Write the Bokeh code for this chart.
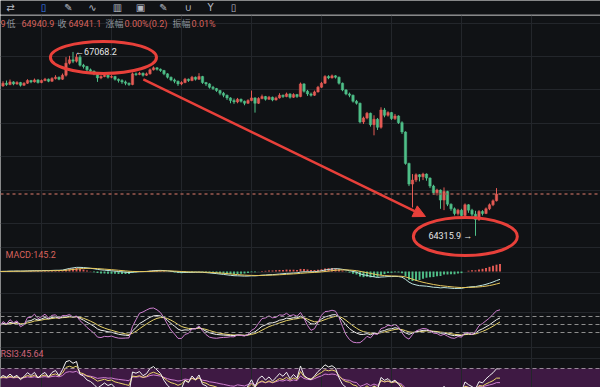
import numpy as np
from bokeh.plotting import figure
from bokeh.models import (Range1d, Grid, FixedTicker, Span, BoxAnnotation, Label,
                          Arrow, NormalHead, ColumnDataSource)
from bokeh.layouts import column
from bokeh.embed import file_html
from bokeh.resources import INLINE
from bokeh.core.properties import value

# ---------------- data ----------------
opens = [66580, 66560, 66600, 66580, 66620, 66590, 66610, 66570, 66600, 66640,
         66620, 66650, 66610, 66640, 66660, 66630, 66670, 66690, 66660, 66720,
         66900, 66950, 66930, 66990, 66870, 66850, 66800, 66780, 66740, 66680,
         66700, 66720, 66690, 66700, 66660, 66640, 66620, 66600, 66580, 66740,
         66730, 66750, 66720, 66740, 66800, 66830, 66810, 66790, 66740, 66690,
         66650, 66630, 66590, 66610, 66660, 66640, 66690, 66660, 66700, 66610,
         66590, 66540, 66520, 66490, 66450, 66420, 66380, 66340, 66320, 66360,
         66330, 66300, 66340, 66380, 66300, 66370, 66400, 66360, 66390, 66350,
         66380, 66420, 66400, 66440, 66390, 66430, 66400, 66590, 66480, 66440,
         66420, 66470, 66540, 66600, 66700, 66680, 66710, 66690, 66600, 66500,
         66440, 66420, 66330, 66300, 66020, 66080, 66150, 65980, 66060, 65940,
         66200, 66120, 66160, 66070, 66110, 66010, 65870, 65400, 65090, 65150,
         65230, 65200, 65240, 65180, 65060, 64960, 65000, 64850, 64980, 64790,
         64720, 64650, 64700, 64620, 64780, 64700, 64640, 64560, 64680, 64650,
         64720, 64780, 64840, 64940.9]
highs = [66610, 66630, 66640, 66655, 66630, 66630, 66620, 66615, 66660, 66650,
         66670, 66660, 66655, 66680, 66670, 66690, 66720, 66700, 66745, 66990,
         67010, 67068.2, 67040, 67020, 66890, 66860, 66820, 66790, 66750, 66720,
         66740, 66730, 66720, 66710, 66670, 66660, 66640, 66610, 66760, 66760,
         66770, 66760, 66760, 66820, 66850, 66840, 66820, 66800, 66750, 66700,
         66670, 66640, 66630, 66680, 66670, 66710, 66700, 66750, 66710, 66620,
         66600, 66560, 66530, 66500, 66470, 66430, 66390, 66370, 66380, 66370,
         66340, 66360, 66490, 66390, 66390, 66430, 66410, 66410, 66400, 66400,
         66450, 66430, 66460, 66450, 66450, 66440, 66610, 66600, 66500, 66460,
         66490, 66560, 66620, 66720, 66720, 66730, 66720, 66700, 66610, 66510,
         66460, 66430, 66350, 66310, 66100, 66170, 66160, 66120, 66080, 66240,
         66230, 66180, 66170, 66140, 66120, 66030, 65880, 65410, 65240, 65250,
         65240, 65260, 65250, 65190, 65080, 65020, 65010, 65040, 64990, 64800,
         64740, 64720, 64720, 64800, 64790, 64720, 64690, 64700, 64700, 64740,
         64800, 64860, 65030, 64947.4]
lows = [66530, 66545, 66560, 66570, 66570, 66575, 66550, 66560, 66590, 66600,
        66610, 66595, 66600, 66630, 66615, 66620, 66655, 66645, 66650, 66700,
        66880, 66900, 66910, 66850, 66820, 66780, 66760, 66720, 66620, 66660,
        66690, 66670, 66675, 66640, 66610, 66590, 66570, 66560, 66570, 66710,
        66720, 66700, 66710, 66730, 66790, 66790, 66770, 66720, 66670, 66630,
        66600, 66560, 66570, 66600, 66620, 66630, 66640, 66650, 66590, 66560,
        66520, 66500, 66470, 66420, 66390, 66350, 66300, 66290, 66300, 66310,
        66270, 66290, 66330, 66160, 66290, 66360, 66340, 66350, 66330, 66340,
        66370, 66380, 66390, 66370, 66380, 66380, 66390, 66460, 66410, 66400,
        66410, 66460, 66530, 66590, 66660, 66670, 66670, 66580, 66480, 66420,
        66390, 66310, 66280, 66000, 65990, 66060, 65950, 65820, 65900, 65920,
        66090, 66100, 66050, 66050, 65990, 65840, 65380, 65060, 64740, 65120,
        65130, 65150, 65140, 65030, 64930, 64920, 64720, 64700, 64760, 64690,
        64620, 64620, 64590, 64600, 64660, 64610, 64315.9, 64540, 64620, 64640,
        64700, 64760, 64830, 64940.9]
closes = [66560, 66600, 66580, 66620, 66590, 66610, 66570, 66600, 66640, 66620,
          66650, 66610, 66640, 66660, 66630, 66670, 66690, 66660, 66720, 66900,
          66950, 66930, 66990, 66870, 66850, 66800, 66780, 66740, 66680, 66700,
          66720, 66690, 66700, 66660, 66640, 66620, 66600, 66580, 66740, 66730,
          66750, 66720, 66740, 66800, 66830, 66810, 66790, 66740, 66690, 66650,
          66630, 66590, 66610, 66660, 66640, 66690, 66660, 66700, 66610, 66590,
          66540, 66520, 66490, 66450, 66420, 66380, 66340, 66320, 66360, 66330,
          66300, 66340, 66380, 66300, 66370, 66400, 66360, 66390, 66350, 66380,
          66420, 66400, 66440, 66390, 66430, 66400, 66590, 66480, 66440, 66420,
          66470, 66540, 66600, 66700, 66680, 66710, 66690, 66600, 66500, 66440,
          66420, 66330, 66300, 66020, 66080, 66150, 65980, 66060, 65940, 66200,
          66120, 66160, 66070, 66110, 66010, 65870, 65400, 65090, 65150, 65230,
          65200, 65240, 65180, 65060, 64960, 65000, 64850, 64980, 64790, 64720,
          64650, 64700, 64620, 64780, 64700, 64640, 64560, 64680, 64650, 64720,
          64780, 64840, 64940.9, 64941.1]

price_grid = [67500, 67000, 66500, 66000, 65500, 65000, 64500]
time_grid = [12, 32, 52, 72, 92, 112, 132, 152, 172]
kdj_levels = [80, 50, 20]
rsi_levels = [70]

header_items = [(0, "9", "val"), (6, "低", "lab"), (21, "64940.9", "val"),
                (57, "收", "lab"), (68, "64941.1", "val"), (105, "涨幅", "lab"),
                (124, "0.00%(0.2)", "val"), (172, "振幅", "lab"), (191, "0.01%", "val")]
macd_label = "MACD:145.2"
rsi_label = "RSI3:45.64"
hi_text = "←67068.2"
lo_text = "64315.9 →"

# ---------------- style ----------------
W, H_HEAD, H_MAIN = 600, 15, 372
BG = "#101215"
GRID = "#23262b"
UP = "#e45b55"
DOWN = "#4fbf88"
RED = "#e8403a"
TXT_VAL = "#d8625c"
TXT_LAB = "#8d939b"

n = len(closes)
idx = np.arange(n)
o = np.array(opens, float); h = np.array(highs, float)
l = np.array(lows, float); c = np.array(closes, float)

# ---------------- indicators ----------------
def ema(x, span):
    out = np.empty_like(x); a = 2.0 / (span + 1); out[0] = x[0]
    for t in range(1, len(x)):
        out[t] = a * x[t] + (1 - a) * out[t - 1]
    return out

dif = ema(c, 12) - ema(c, 26)
dea = ema(dif, 9)
hist = 2 * (dif - dea)

KP = 14
K = np.empty(n); D = np.empty(n); k = d = 50.0
for t in range(n):
    loN = l[max(0, t - KP + 1):t + 1].min(); hiN = h[max(0, t - KP + 1):t + 1].max()
    rsv = (c[t] - loN) / (hiN - loN) * 100 if hiN > loN else 50.0
    k = (2 * k + rsv) / 3; d = (2 * d + k) / 3
    K[t] = k; D[t] = d
J = 3 * K - 2 * D

mean_abs = np.abs(np.diff(c)).mean()
def rsi(x, p):
    out = np.full(len(x), 50.0); up = mean_abs / 2; ab = mean_abs
    for t in range(1, len(x)):
        df = x[t] - x[t - 1]
        up = (max(df, 0) + (p - 1) * up) / p
        ab = (abs(df) + (p - 1) * ab) / p
        out[t] = up / ab * 100 if ab > 0 else 50.0
    return out

r6, r12, r24 = rsi(c, 6), rsi(c, 12), rsi(c, 24)

# ---------------- layout mapping (reference pixel rows) ----------------
REF_TOP, REF_BOT = 15, 387
def span_range(v1, y1, v2, y2):
    b = (y1 - y2) / (v2 - v1)
    a = y1 + b * v1
    return Range1d((a - REF_BOT) / b, (a - REF_TOP) / b)

x_range = Range1d((0 + 1) / 3.5, (600 + 1) / 3.5)
price_range = span_range(67000, 56, 64500, 223)
low_line = min(dif.min(), dea.min())
macd_range = span_range(0, 271, low_line, 288)
kdj_range = span_range(80, 316, 20, 332)
rsi_range = span_range(70, 368, 30, 387.6)

# ---------------- header strip ----------------
head = figure(width=W, height=H_HEAD, x_range=Range1d(0, 600), y_range=Range1d(14, 0),
              x_axis_type=None, y_axis_type=None, toolbar_location=None,
              output_backend="svg", background_fill_color=BG, border_fill_color="#2a2d32",
              outline_line_color=None, min_border=0)
head.min_border_bottom = 1
head.grid.visible = False
icons = [(10, "⇄", "#b4bac4"), (43, "▯", "#3b82f6"), (68, "✎", "#b4bac4"), (92, "∿", "#b4bac4"),
         (117, "▥", "#b4bac4"), (140, "▣", "#b4bac4"), (163, "✎", "#b4bac4"),
         (188, "∪", "#b4bac4"), (210, "Y", "#b4bac4"), (233, "▯", "#b4bac4")]
for ix, ch, col in icons:
    head.add_layout(Label(x=ix, y=12.5, text=ch, text_color=col, text_font_size="10px",
                          text_font="DejaVu Sans", text_align="center", text_baseline="bottom"))

# ---------------- main figure ----------------
p = figure(width=W, height=H_MAIN, x_range=x_range, y_range=price_range,
           x_axis_type=None, y_axis_type=None, toolbar_location=None,
           output_backend="svg", background_fill_color=BG, border_fill_color=BG,
           outline_line_color=None, min_border=0)
p.extra_x_ranges = {"pxx": Range1d(0, 600)}
p.extra_y_ranges = {"px": Range1d(REF_BOT, REF_TOP), "macd": macd_range,
                    "kdj": kdj_range, "rsi": rsi_range}

p.add_layout(BoxAnnotation(bottom=30, top=70, y_range_name="rsi", fill_color="#3e1943",
                           fill_alpha=1.0, line_color=None, level="underlay"))
p.add_layout(Grid(dimension=1, ticker=FixedTicker(ticks=price_grid), grid_line_color=GRID))
p.add_layout(Grid(dimension=0, ticker=FixedTicker(ticks=time_grid), grid_line_color=GRID))
p.add_layout(Grid(dimension=1, y_range_name="px",
                  ticker=FixedTicker(ticks=[247, 272, 293, 312, 347, 358]), grid_line_color=GRID))

for lv in kdj_levels:
    p.add_layout(Span(location=lv, dimension="width", y_range_name="kdj",
                      line_color="#8e8e8e", line_dash="4 3", line_width=1))
for lv in rsi_levels:
    p.add_layout(Span(location=lv, dimension="width", y_range_name="rsi",
                      line_color="#9a8a9a", line_dash="4 3", line_width=1))

# candles
colors = [UP if cc >= oo else DOWN for oo, cc in zip(opens, closes)]
src = ColumnDataSource(dict(x=idx, h=h, l=l, top=np.maximum(o, c), bottom=np.minimum(o, c),
                            color=colors))
p.segment(x0="x", y0="h", x1="x", y1="l", line_color="color", line_width=1, source=src)
p.vbar(x="x", width=0.68, top="top", bottom="bottom", fill_color="color",
       line_color="color", line_width=0.5, source=src)

p.add_layout(Span(location=closes[-1], dimension="width", line_color="#9c5a50",
                  line_dash="3 3", line_width=1.5))

# MACD
msrc = ColumnDataSource(dict(x=idx, hist=hist, color=[UP if v >= 0 else DOWN for v in hist]))
p.vbar(x="x", width=0.55, top="hist", bottom=0, fill_color="color", line_color=None,
       source=msrc, y_range_name="macd")
p.line(idx, dif, line_color="#bfe6e2", line_width=1, y_range_name="macd")
p.line(idx, dea, line_color="#e6c65c", line_width=1, y_range_name="macd")

# KDJ
p.line(idx, D, line_color="#e8d36a", line_width=1, y_range_name="kdj")
p.line(idx, K, line_color="#f0f0f0", line_width=1, y_range_name="kdj")
p.line(idx, J, line_color="#cf7fd0", line_width=1, y_range_name="kdj")

# RSI
p.line(idx, r24, line_color="#cf7fd0", line_width=1, y_range_name="rsi")
p.line(idx, r12, line_color="#e8d36a", line_width=1, y_range_name="rsi")
p.line(idx, r6, line_color="#f2f2f2", line_width=1, y_range_name="rsi")

# extreme labels
hi_i = int(np.argmax(h)); lo_i = int(np.argmin(l))
p.text(x=[hi_i + 0.6], y=[h[hi_i]], text=[hi_text], text_color="#e6e6e6",
       text_font=value("Roboto"), text_font_size=value("9px"),
       text_align="left", text_baseline="middle")
p.text(x=[lo_i - 0.9], y=[l[lo_i]], text=[lo_text], text_color="#e6e6e6",
       text_font=value("Roboto"), text_font_size=value("9px"),
       text_align="right", text_baseline="middle")

# hand-drawn marks
p.ellipse(x=[hi_i + 8.7], y=[h[hi_i] - 83], width=30.3, height=479,
          fill_color=None, line_color=RED, line_width=3)
p.ellipse(x=[lo_i - 2.9], y=[l[lo_i] - 11], width=29.7, height=569,
          fill_color=None, line_color=RED, line_width=3)
p.add_layout(Arrow(end=NormalHead(size=12, fill_color=RED, line_color=RED),
                   x_start=41.1, y_start=66656, x_end=121.7, y_end=64605,
                   line_color=RED, line_width=2.5))

# header info + panel labels
for ix, txt, kind in header_items:
    cjk = kind == "lab"
    p.add_layout(Label(x=ix, y=23, x_range_name="pxx", y_range_name="px", text=txt,
                       text_color=TXT_LAB if cjk else TXT_VAL, text_font_size="9px",
                       text_font="Noto Sans CJK SC" if cjk else "Roboto",
                       text_align="left", text_baseline="middle"))
p.add_layout(Label(x=5, y=254, x_range_name="pxx", y_range_name="px", text=macd_label,
                   text_color=TXT_VAL, text_font_size="9px", text_font="Roboto",
                   text_baseline="middle"))
p.add_layout(Label(x=0, y=353, x_range_name="pxx", y_range_name="px", text=rsi_label,
                   text_color="#d0657a", text_font_size="9px", text_font="Roboto",
                   text_baseline="middle"))

layout = column(head, p, spacing=0)
open("out.html", "w").write(file_html(layout, INLINE))
